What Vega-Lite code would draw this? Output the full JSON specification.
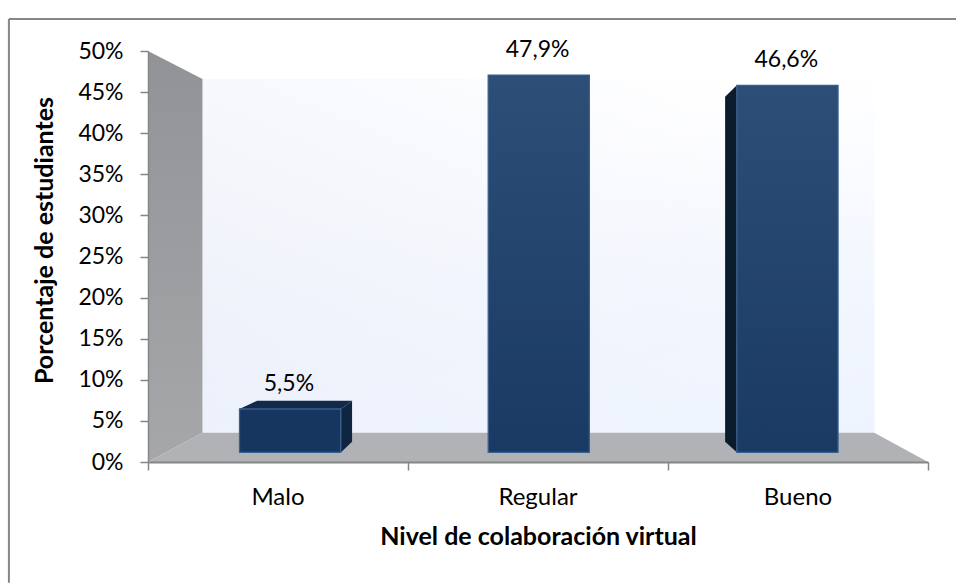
{"$schema":"https://vega.github.io/schema/vega-lite/v6.json","width":780,"height":411,"padding":{"left":148,"top":51,"right":28,"bottom":121},"autosize":"none","background":"white","config":{"view":{"stroke":null},"font":"Lato"},"datasets":{"niveles":[{"nivel":"Malo","pos":0,"porcentaje":5.5},{"nivel":"Regular","pos":1,"porcentaje":47.9},{"nivel":"Bueno","pos":2,"porcentaje":46.6}],"marcoIzq":[{"x":-0.535,"y":53.9,"y2":-14.7}],"marcoSup":[{"y":53.9,"x":-0.535,"x2":3.11}],"pared":[{"x":0.2095,"x2":2.7935,"y":3.56,"y2":46.59}],"paredIzq":[{"x":0,"y":0,"y2":50},{"x":0.2095,"y":3.56,"y2":46.59}],"piso":[{"y":0,"x":0,"x2":3},{"y":3.56,"x":0.2095,"x2":2.7935}],"ladoMalo":[{"x":0.7426,"y":1.18,"y2":6.45},{"x":0.7849,"y":2.47,"y2":7.46}],"techoMalo":[{"y":6.45,"x":0.3517,"x2":0.7426},{"y":7.46,"x":0.4197,"x2":0.7849}],"ladoBueno":[{"x":2.2197,"y":2.47,"y2":44.44},{"x":2.2647,"y":1.18,"y2":45.82}]},"layer":[{"data":{"name":"marcoIzq"},"mark":{"type":"rule","stroke":"#868686","strokeWidth":2},"encoding":{"x":{"field":"x","type":"quantitative","scale":{"domain":[0,3],"nice":false,"zero":false},"axis":{"values":[0,1,2,3],"labels":false,"grid":false,"zindex":1,"domainColor":"#868686","domainWidth":2,"tickColor":"#868686","tickWidth":1.5,"tickSize":8,"title":"Nivel de colaboración virtual","titleFont":"Lato","titleFontSize":25,"titleFontWeight":"bold","titleColor":"black","titlePadding":54}},"y":{"field":"y","type":"quantitative","scale":{"domain":[0,50],"nice":false},"axis":{"values":[0,5,10,15,20,25,30,35,40,45,50],"labelExpr":"datum.value + '%'","grid":false,"zindex":1,"domainColor":"#868686","domainWidth":1.5,"tickColor":"#868686","tickWidth":1.5,"tickSize":8,"labelFont":"Lato","labelFontSize":23,"labelColor":"black","labelPadding":17,"title":"Porcentaje de estudiantes","titleFont":"Lato","titleFontSize":25,"titleFontWeight":"bold","titleColor":"black","titlePadding":20,"titleY":189}},"y2":{"field":"y2"}}},{"data":{"name":"marcoSup"},"mark":{"type":"rule","stroke":"#868686","strokeWidth":2},"encoding":{"y":{"field":"y","type":"quantitative"},"x":{"field":"x","type":"quantitative"},"x2":{"field":"x2"}}},{"data":{"name":"pared"},"mark":{"type":"rect","fill":{"gradient":"linear","x1":0,"y1":1,"x2":0.8,"y2":0,"stops":[{"offset":0,"color":"#eaeef8"},{"offset":1,"color":"#ffffff"}]}},"encoding":{"x":{"field":"x","type":"quantitative"},"x2":{"field":"x2"},"y":{"field":"y","type":"quantitative"},"y2":{"field":"y2"}}},{"data":{"name":"pared"},"mark":{"type":"rect","fill":{"gradient":"linear","x1":0.55,"y1":0.2,"x2":1,"y2":1,"stops":[{"offset":0,"color":"rgba(238,244,255,0)"},{"offset":1,"color":"rgba(238,244,255,1)"}]}},"encoding":{"x":{"field":"x","type":"quantitative"},"x2":{"field":"x2"},"y":{"field":"y","type":"quantitative"},"y2":{"field":"y2"}}},{"data":{"name":"paredIzq"},"mark":{"type":"area","fill":{"gradient":"linear","x1":0,"y1":0,"x2":0,"y2":1,"stops":[{"offset":0,"color":"#929397"},{"offset":1,"color":"#a6a7a9"}]}},"encoding":{"x":{"field":"x","type":"quantitative"},"y":{"field":"y","type":"quantitative"},"y2":{"field":"y2"}}},{"data":{"name":"piso"},"mark":{"type":"area","orient":"horizontal","color":"#b0b2b5"},"encoding":{"y":{"field":"y","type":"quantitative"},"x":{"field":"x","type":"quantitative"},"x2":{"field":"x2"}}},{"data":{"name":"ladoMalo"},"mark":{"type":"area","color":"#0f2540"},"encoding":{"x":{"field":"x","type":"quantitative"},"y":{"field":"y","type":"quantitative"},"y2":{"field":"y2"}}},{"data":{"name":"techoMalo"},"mark":{"type":"area","orient":"horizontal","color":"#12294a"},"encoding":{"y":{"field":"y","type":"quantitative"},"x":{"field":"x","type":"quantitative"},"x2":{"field":"x2"}}},{"data":{"name":"ladoBueno"},"mark":{"type":"area","color":"#0a1b2c"},"encoding":{"x":{"field":"x","type":"quantitative"},"y":{"field":"y","type":"quantitative"},"y2":{"field":"y2"}}},{"data":{"name":"niveles"},"transform":[{"calculate":"datum.pos + 0.352 - 0.0435 * datum.pos","as":"x0"},{"calculate":"datum.x0 + 0.389","as":"x1"},{"calculate":"1.18 + datum.porcentaje * 0.958","as":"tope"},{"calculate":"1.18","as":"base"},{"calculate":"replace(format(datum.porcentaje, '.1f'), '.', ',') + '%'","as":"etiqueta"},{"calculate":"datum.pos + 0.5","as":"xEtiqueta"},{"calculate":"datum.x0 + 0.19","as":"xCentro"},{"calculate":"0","as":"cero"}],"layer":[{"transform":[{"filter":"datum.pos == 0"}],"mark":{"type":"rect","fill":"#17365f","stroke":"#37608f","strokeWidth":1.3},"encoding":{"x":{"field":"x0","type":"quantitative"},"x2":{"field":"x1"},"y":{"field":"base","type":"quantitative"},"y2":{"field":"tope"}}},{"transform":[{"filter":"datum.pos > 0"}],"mark":{"type":"rect","stroke":"#37608f","strokeWidth":1.3,"fill":{"gradient":"linear","x1":0,"y1":0,"x2":0,"y2":1,"stops":[{"offset":0,"color":"#2d4e77"},{"offset":1,"color":"#1a3a63"}]}},"encoding":{"x":{"field":"x0","type":"quantitative"},"x2":{"field":"x1"},"y":{"field":"base","type":"quantitative"},"y2":{"field":"tope"}}},{"mark":{"type":"text","font":"Lato","fontSize":23,"color":"black","baseline":"middle","dy":-25},"encoding":{"x":{"field":"xCentro","type":"quantitative"},"y":{"field":"tope","type":"quantitative"},"text":{"field":"etiqueta"}}},{"mark":{"type":"text","font":"Lato","fontSize":24,"color":"black","baseline":"middle","dy":36},"encoding":{"x":{"field":"xEtiqueta","type":"quantitative"},"y":{"field":"cero","type":"quantitative"},"text":{"field":"nivel"}}}]}]}
